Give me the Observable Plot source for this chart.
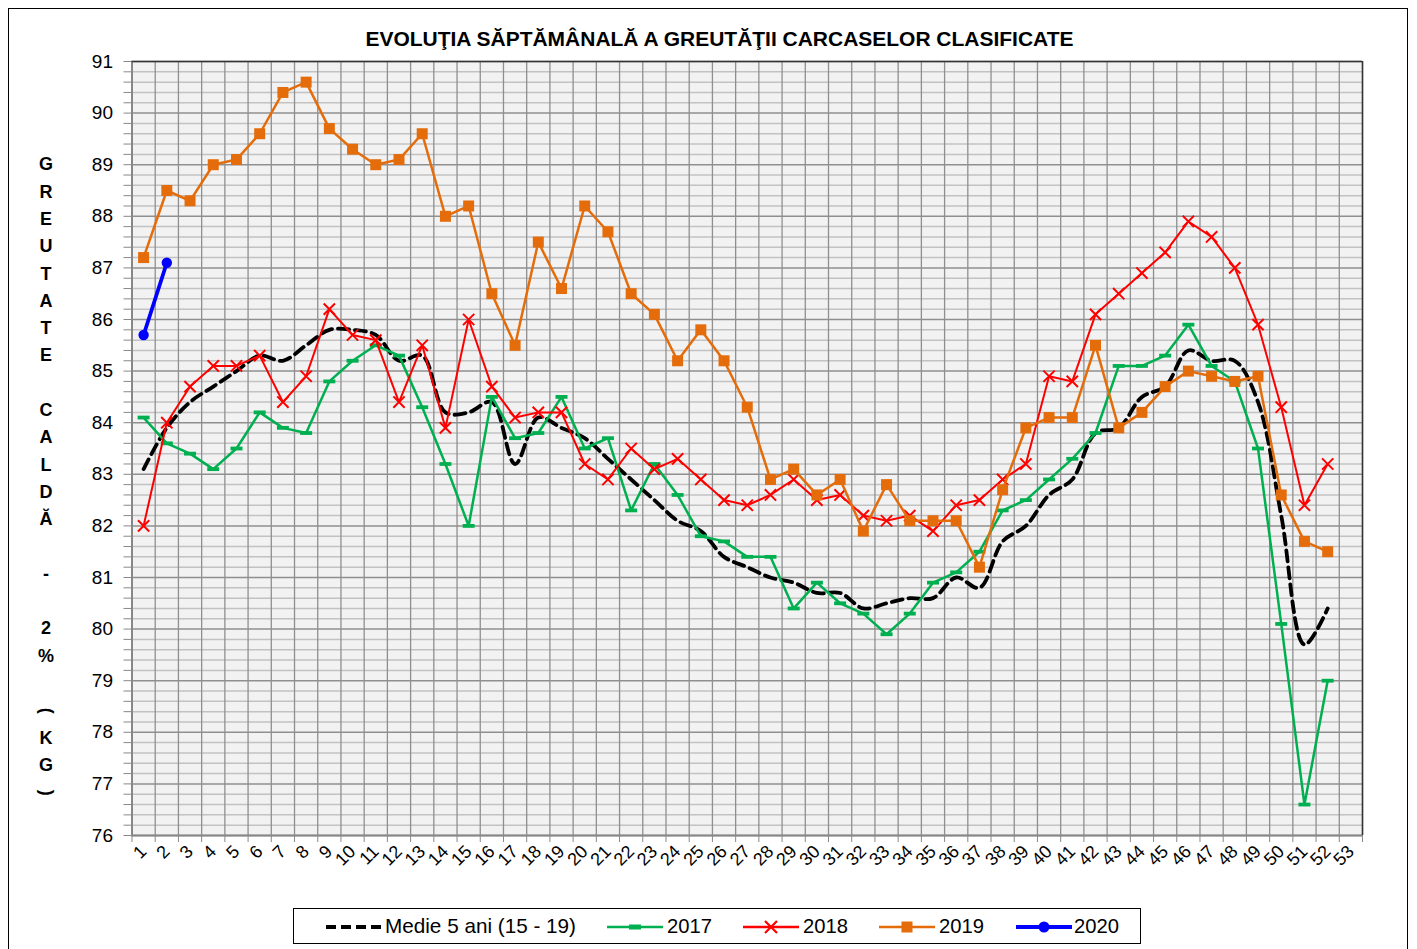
<!DOCTYPE html>
<html><head><meta charset="utf-8">
<script src="https://cdn.jsdelivr.net/npm/d3@7"></script>
<script src="https://cdn.jsdelivr.net/npm/@observablehq/plot@0.6"></script>
<style>
body{margin:0;background:#fff;font-family:"Liberation Sans",Arial,sans-serif;}
#wrap{position:relative;width:1417px;height:949px;overflow:hidden;background:#fff;}
#outer{position:absolute;left:8px;top:8px;width:1400px;height:1000px;border:1px solid #000;box-sizing:border-box;}
#title{position:absolute;left:19px;top:27px;width:1400px;text-align:center;font-weight:bold;font-size:21px;line-height:24px;color:#000;white-space:nowrap;}
#title span{display:inline-block;transform-origin:50% 50%;}
#chart{position:absolute;left:0;top:0;}
#ytitle{position:absolute;left:26px;width:40px;text-align:center;font-weight:bold;font-size:18px;color:#000;}
#ytitle div{height:27.3px;line-height:27.3px;}
#ytitle .rot{display:inline-block;transform:rotate(90deg);}
#legend{position:absolute;left:293px;top:908px;width:848px;height:36px;border:1px solid #000;box-sizing:border-box;background:#fff;}
.lsw{position:absolute;top:0;height:34px;}
.ltx{position:absolute;top:5px;font-size:21px;line-height:24px;white-space:nowrap;color:#000;transform-origin:0 50%;}
</style></head>
<body>
<div id="wrap">
  <div id="outer"></div>
  <div id="title"><span id="titletext">EVOLUŢIA SĂPTĂMÂNALĂ A GREUTĂŢII CARCASELOR CLASIFICATE</span></div>
  <div id="ytitle"></div>
  <div id="chart"></div>
  <div id="legend"></div>
</div>
<script>
// ---- data ----
const weeks = [1,2,3,4,5,6,7,8,9,10,11,12,13,14,15,16,17,18,19,20,21,22,23,24,25,26,27,28,29,30,31,32,33,34,35,36,37,38,39,40,41,42,43,44,45,46,47,48,49,50,51,52,53];
const yTickLabels = [76,77,78,79,80,81,82,83,84,85,86,87,88,89,90,91];
const medie5ani = [83.1,83.9,84.4,84.7,85.0,85.3,85.2,85.5,85.8,85.8,85.7,85.2,85.3,84.2,84.2,84.4,83.2,84.1,83.9,83.7,83.3,82.9,82.5,82.1,81.9,81.4,81.2,81.0,80.9,80.7,80.7,80.4,80.5,80.6,80.6,81.0,80.8,81.7,82.0,82.6,82.9,83.8,83.9,84.5,84.7,85.4,85.2,85.2,84.4,82.2,79.7,80.4];
const y2017 = [84.1,83.6,83.4,83.1,83.5,84.2,83.9,83.8,84.8,85.2,85.5,85.3,84.3,83.2,82.0,84.5,83.7,83.8,84.5,83.5,83.7,82.3,83.2,82.6,81.8,81.7,81.4,81.4,80.4,80.9,80.5,80.3,79.9,80.3,80.9,81.1,81.5,82.3,82.5,82.9,83.3,83.8,85.1,85.1,85.3,85.9,85.1,84.8,83.5,80.1,76.6,79.0];
const y2018 = [82.0,84.0,84.7,85.1,85.1,85.3,84.4,84.9,86.2,85.7,85.6,84.4,85.5,83.9,86.0,84.7,84.1,84.2,84.2,83.2,82.9,83.5,83.1,83.3,82.9,82.5,82.4,82.6,82.9,82.5,82.6,82.2,82.1,82.2,81.9,82.4,82.5,82.9,83.2,84.9,84.8,86.1,86.5,86.9,87.3,87.9,87.6,87.0,85.9,84.3,82.4,83.2];
const y2019 = [87.2,88.5,88.3,89.0,89.1,89.6,90.4,90.6,89.7,89.3,89.0,89.1,89.6,88.0,88.2,86.5,85.5,87.5,86.6,88.2,87.7,86.5,86.1,85.2,85.8,85.2,84.3,82.9,83.1,82.6,82.9,81.9,82.8,82.1,82.1,82.1,81.2,82.7,83.9,84.1,84.1,85.5,83.9,84.2,84.7,85.0,84.9,84.8,84.9,82.6,81.7,81.5];
const y2020 = [85.7,87.1];
const seriesNames = ["Medie 5 ani (15 - 19)","2017","2018","2019","2020"];
const seriesColors = ["#000000","#00b050","#ff0000","#e46c0a","#0000ff"];
const titleText = "EVOLUŢIA SĂPTĂMÂNALĂ A GREUTĂŢII CARCASELOR CLASIFICATE";
const yAxisTitle = "GREUTATE CALDĂ - 2% (KG)";

// ---- derived ----
const rows = arr => arr.map((v, i) => ({week: weeks[i], value: v}));
const minorTicks = yTickLabels.slice(0, -1).flatMap(t => [0.2, 0.4, 0.6, 0.8].map(f => +(t + f).toFixed(1)));
const bounds = [weeks[0] - 0.5, ...weeks.map(w => w + 0.5)];

const dashSymbol = {
  draw(ctx, size) {
    const r = Math.sqrt(size / Math.PI);
    ctx.moveTo(-1.2 * r, -0.38 * r);
    ctx.lineTo(1.2 * r, -0.38 * r);
    ctx.lineTo(1.2 * r, 0.38 * r);
    ctx.lineTo(-1.2 * r, 0.38 * r);
    ctx.closePath();
  }
};

const chart = Plot.plot({
  width: 1417,
  height: 895,
  marginLeft: 131.5,
  marginRight: 55,
  marginTop: 61,
  marginBottom: 60,
  x: {domain: [bounds[0], bounds[bounds.length - 1]], axis: null, label: null},
  y: {domain: [yTickLabels[0], yTickLabels[yTickLabels.length - 1]], axis: null, label: null},
  style: {fontFamily: "'Liberation Sans', Arial, sans-serif", background: "transparent", overflow: "visible", color: "#000"},
  marks: [
    Plot.frame({fill: "#f2f2f2", stroke: null}),
    Plot.ruleY(minorTicks, {stroke: "#c2c2c2", strokeWidth: 1.5}),
    Plot.ruleY(yTickLabels, {stroke: "#8f8f8f", strokeWidth: 1.5}),
    Plot.ruleX(bounds, {stroke: "#8f8f8f", strokeWidth: 1.3}),
    Plot.ruleX([bounds[0]], {stroke: "#878787", strokeWidth: 2}),
    Plot.ruleY([yTickLabels[0]], {stroke: "#878787", strokeWidth: 2}),
    Plot.ruleY([yTickLabels[yTickLabels.length - 1]], {stroke: "#333", strokeWidth: 1.5}),
    Plot.ruleX([bounds[bounds.length - 1]], {stroke: "#333", strokeWidth: 1.5}),
    Plot.axisY([...yTickLabels, ...minorTicks], {tickSize: 8, tickFormat: () => "", stroke: "#888", label: null}),
    Plot.axisY(yTickLabels, {tickSize: 0, tickPadding: 19, fontSize: 19, fill: "#000", label: null, tickFormat: d3.format("d")}),
    Plot.axisX(bounds, {tickSize: 7, tickFormat: () => "", stroke: "#888", label: null}),
    Plot.axisX(weeks, {tickSize: 0, tickPadding: 13, tickRotate: -45, fontSize: 18, fill: "#000", label: null, tickFormat: d3.format("d")}),
    // Medie 5 ani
    Plot.line(rows(medie5ani), {x: "week", y: "value", stroke: seriesColors[0], strokeWidth: 3.8, strokeDasharray: "11,6", curve: "catmull-rom"}),
    // 2017
    Plot.line(rows(y2017), {x: "week", y: "value", stroke: seriesColors[1], strokeWidth: 2.5}),
    Plot.dot(rows(y2017), {x: "week", y: "value", symbol: dashSymbol, r: 5, fill: seriesColors[1], stroke: null}),
    // 2018
    Plot.line(rows(y2018), {x: "week", y: "value", stroke: seriesColors[2], strokeWidth: 2}),
    Plot.dot(rows(y2018), {x: "week", y: "value", symbol: "times", r: 5.2, stroke: seriesColors[2], strokeWidth: 2, fill: "none"}),
    // 2019
    Plot.line(rows(y2019), {x: "week", y: "value", stroke: seriesColors[3], strokeWidth: 2.5}),
    Plot.dot(rows(y2019), {x: "week", y: "value", symbol: "square", r: 6.2, fill: seriesColors[3], stroke: null}),
    // 2020
    Plot.line(rows(y2020), {x: "week", y: "value", stroke: seriesColors[4], strokeWidth: 3.8}),
    Plot.dot(rows(y2020), {x: "week", y: "value", symbol: "circle", r: 5.2, fill: seriesColors[4], stroke: null})
  ]
});
document.getElementById("chart").appendChild(chart);

// y-axis title: stacked letters
const yt = document.getElementById("ytitle");
yt.style.top = (165 - 13.65) + "px";
for (const ch of yAxisTitle) {
  const d = document.createElement("div");
  if (ch === " ") d.innerHTML = "&nbsp;";
  else if (ch === "(" || ch === ")") { const s = document.createElement("span"); s.className = "rot"; s.textContent = ch; d.appendChild(s); }
  else d.textContent = ch;
  yt.appendChild(d);
}

// legend
const legend = document.getElementById("legend");
const lx0 = 293;
const swatchX = [325, 606, 742, 878, 1015];
const textX = [384, 666, 802, 938, 1073];
const textW = [191, 45, 45, 45, 45];
const svgNS = "http://www.w3.org/2000/svg";
seriesNames.forEach((name, i) => {
  const svg = document.createElementNS(svgNS, "svg");
  svg.setAttribute("class", "lsw");
  svg.setAttribute("width", 56); svg.setAttribute("height", 34);
  svg.style.left = (swatchX[i] - lx0) + "px";
  const ln = document.createElementNS(svgNS, "line");
  ln.setAttribute("x1", 0); ln.setAttribute("x2", 56); ln.setAttribute("y1", 18); ln.setAttribute("y2", 18);
  ln.setAttribute("stroke", seriesColors[i]);
  ln.setAttribute("stroke-width", i === 0 ? 3.8 : i === 4 ? 3.8 : 2.5);
  if (i === 0) ln.setAttribute("stroke-dasharray", "10,5");
  svg.appendChild(ln);
  let m;
  if (i === 1) { m = document.createElementNS(svgNS, "rect"); m.setAttribute("x", 22); m.setAttribute("y", 15.5); m.setAttribute("width", 12); m.setAttribute("height", 5); m.setAttribute("fill", seriesColors[i]); }
  if (i === 2) { m = document.createElementNS(svgNS, "path"); m.setAttribute("d", "M22,12L34,24M34,12L22,24"); m.setAttribute("stroke", seriesColors[i]); m.setAttribute("stroke-width", 2.2); }
  if (i === 3) { m = document.createElementNS(svgNS, "rect"); m.setAttribute("x", 22.5); m.setAttribute("y", 12.5); m.setAttribute("width", 11); m.setAttribute("height", 11); m.setAttribute("fill", seriesColors[i]); }
  if (i === 4) { m = document.createElementNS(svgNS, "circle"); m.setAttribute("cx", 28); m.setAttribute("cy", 18); m.setAttribute("r", 5.5); m.setAttribute("fill", seriesColors[i]); }
  if (m) svg.appendChild(m);
  legend.appendChild(svg);
  const t = document.createElement("div");
  t.className = "ltx";
  t.style.left = (textX[i] - lx0) + "px";
  t.textContent = name;
  t.dataset.w = textW[i];
  legend.appendChild(t);
});

function fit() {
  const ts = document.getElementById("titletext");
  ts.style.transform = "none";
  const w = ts.getBoundingClientRect().width;
  ts.style.transform = `scaleX(${708 / w})`;
  document.querySelectorAll(".ltx").forEach(t => {
    t.style.transform = "none";
    const tw = t.getBoundingClientRect().width;
    t.style.transform = `scaleX(${(+t.dataset.w) / tw})`;
  });
}
fit();
if (document.fonts && document.fonts.ready) document.fonts.ready.then(fit);
</script>
</body></html>
